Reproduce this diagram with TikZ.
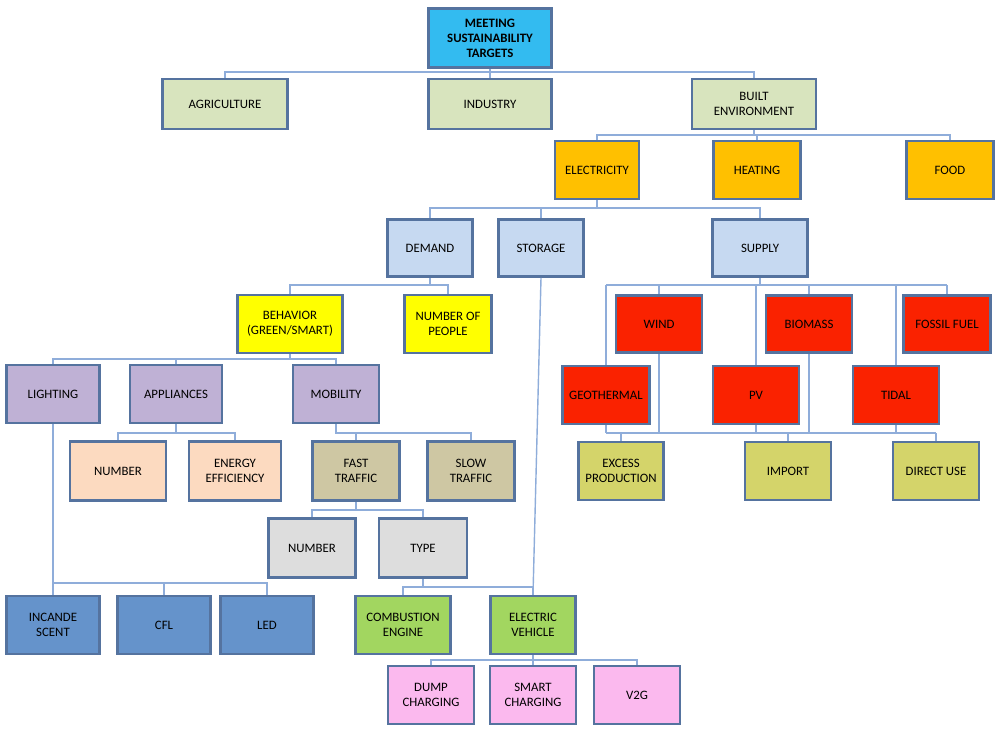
\documentclass[tikz,border=0pt]{standalone}
\usepackage{fontspec}
\setmainfont{Carlito}
\begin{document}
\definecolor{bord}{HTML}{55739F}
\definecolor{lnc}{HTML}{8FADDA}
\begin{tikzpicture}[x=0.02cm,y=-0.02cm,
  bx/.style={draw=bord,line width=1.6pt,align=center,inner sep=1pt,font=\fontsize{7.3}{8.6}\selectfont},
  ln/.style={draw=lnc,line width=0.8pt},
  c1/.style={fill={rgb,255:red,51;green,187;blue,240},font=\fontsize{7.3}{8.6}\selectfont\bfseries},
  c2/.style={fill={rgb,255:red,216;green,228;blue,190}},
  c3/.style={fill={rgb,255:red,255;green,192;blue,0}},
  c4/.style={fill={rgb,255:red,198;green,217;blue,241}},
  c5/.style={fill={rgb,255:red,255;green,255;blue,0}},
  c6/.style={fill={rgb,255:red,250;green,34;blue,0}},
  c7/.style={fill={rgb,255:red,191;green,177;blue,213}},
  c8/.style={fill={rgb,255:red,252;green,218;blue,192}},
  c9/.style={fill={rgb,255:red,206;green,199;blue,163}},
  c10/.style={fill={rgb,255:red,221;green,221;blue,221}},
  c11/.style={fill={rgb,255:red,101;green,147;blue,203}},
  c12/.style={fill={rgb,255:red,162;green,214;blue,96}},
  c13/.style={fill={rgb,255:red,251;green,185;blue,238}},
  c14/.style={fill={rgb,255:red,212;green,212;blue,106}}]
\useasboundingbox (0,0) rectangle (1000,739);
\newcommand\bx[7]{\node[bx,#6,minimum width={#4*0.02cm},minimum height={#5*0.02cm}] (#1) at (#2,#3) {#7};}
\bx{meet}{490}{38}{123}{59}{c1}{MEETING\\SUSTAINABILITY\\TARGETS}
\bx{agri}{225}{104}{125}{50}{c2}{AGRICULTURE}
\bx{ind}{490}{104}{123}{50}{c2}{INDUSTRY}
\bx{built}{754}{104}{124}{50}{c2}{BUILT\\ENVIRONMENT}
\bx{elec}{597}{170}{84}{58}{c3}{ELECTRICITY}
\bx{heat}{757}{170}{87}{58}{c3}{HEATING}
\bx{food}{950}{170}{87}{58}{c3}{FOOD}
\bx{dem}{430}{248}{85}{57}{c4}{DEMAND}
\bx{stor}{541}{248}{85}{57}{c4}{STORAGE}
\bx{sup}{760}{248}{95}{57}{c4}{SUPPLY}
\bx{beh}{290}{324}{105}{58}{c5}{BEHAVIOR\\(GREEN/SMART)}
\bx{peop}{448}{324}{87}{58}{c5}{NUMBER OF\\PEOPLE}
\bx{wind}{659}{324}{86}{57}{c6}{WIND}
\bx{bio}{809}{324}{86}{57}{c6}{BIOMASS}
\bx{fos}{947}{324}{87}{57}{c6}{FOSSIL FUEL}
\bx{geo}{606}{395}{87}{58}{c6}{GEOTHERMAL}
\bx{pv}{756}{395}{86}{58}{c6}{PV}
\bx{tid}{896}{395}{86}{58}{c6}{TIDAL}
\bx{exc}{621}{471}{85}{58}{c14}{EXCESS\\PRODUCTION}
\bx{imp}{788}{471}{86}{58}{c14}{IMPORT}
\bx{dir}{936}{471}{86}{58}{c14}{DIRECT USE}
\bx{light}{53}{394}{93}{58}{c7}{LIGHTING}
\bx{app}{176}{394}{92}{58}{c7}{APPLIANCES}
\bx{mob}{336}{394}{86}{58}{c7}{MOBILITY}
\bx{numa}{118}{471}{96}{59}{c8}{NUMBER}
\bx{eff}{235}{471}{92}{59}{c8}{ENERGY\\EFFICIENCY}
\bx{fast}{356}{471}{87}{59}{c9}{FAST\\TRAFFIC}
\bx{slow}{471}{471}{87}{59}{c9}{SLOW\\TRAFFIC}
\bx{numf}{312}{548}{87}{59}{c10}{NUMBER}
\bx{type}{423}{548}{88}{59}{c10}{TYPE}
\bx{inc}{53}{625}{93}{58}{c11}{INCANDE\\SCENT}
\bx{cfl}{164}{625}{93}{58}{c11}{CFL}
\bx{led}{267}{625}{93}{58}{c11}{LED}
\bx{comb}{403}{625}{95}{58}{c12}{COMBUSTION\\ENGINE}
\bx{ev}{533}{625}{85}{58}{c12}{ELECTRIC\\VEHICLE}
\bx{dump}{431}{695}{86}{58}{c13}{DUMP\\CHARGING}
\bx{smart}{533}{695}{86}{58}{c13}{SMART\\CHARGING}
\bx{v2g}{637}{695}{86}{58}{c13}{V2G}
\begin{scope}[on background layer/.try]
\newcommand\tree[3]{\foreach \c in {#3}{\draw[ln] (#1.south) -- (#1.south|-0,#2) -| (\c.north);}}
\tree{meet}{72}{agri,ind,built}
\tree{built}{135}{elec,heat,food}
\tree{elec}{208}{dem,stor,sup}
\tree{dem}{285}{beh,peop}
\tree{beh}{359}{light,app,mob}
\tree{app}{433}{numa,eff}
\tree{mob}{433}{fast,slow}
\tree{fast}{510}{numf,type}
\tree{light}{583}{inc,cfl,led}
\tree{type}{587}{comb,ev}
\tree{ev}{660}{dump,smart,v2g}
\draw[ln] (stor.south) -- (ev.north);
\draw[ln] (sup.south) -- (sup.south|-0,285);
\draw[ln] (geo.north|-0,285) -- (fos.north|-0,285);
\foreach \c in {wind,bio,fos,geo,pv,tid}{\draw[ln] (\c.north) -- (\c.north|-0,285);}
\draw[ln] (geo.south|-0,433) -- (dir.north|-0,433);
\foreach \c in {wind,bio,geo,pv,tid}{\draw[ln] (\c.south) -- (\c.south|-0,433);}
\foreach \c in {exc,imp,dir}{\draw[ln] (\c.north) -- (\c.north|-0,433);}
\end{scope}
\end{tikzpicture}
\end{document}
